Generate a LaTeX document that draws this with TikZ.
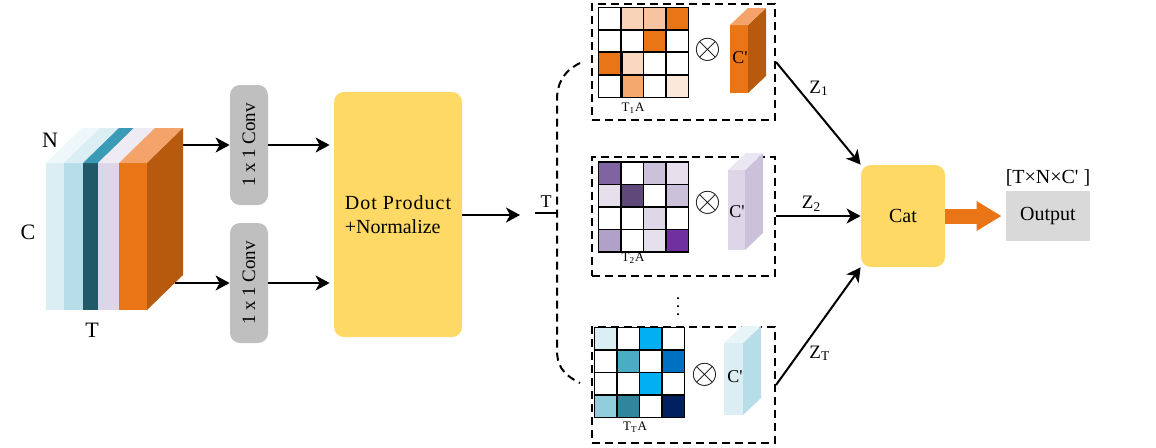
\documentclass[tikz,border=0pt]{standalone}
\usepackage{fontspec}
\setmainfont{Liberation Serif}
\usetikzlibrary{positioning,matrix,arrows.meta}

\definecolor{yel}{HTML}{FED966}
\definecolor{gConv}{HTML}{BFBFBF}
\definecolor{gOut}{HTML}{D9D9D9}
\definecolor{orA}{HTML}{E97516}
\definecolor{orSide}{HTML}{B85A0E}
\definecolor{orTop}{HTML}{F4A46A}
\definecolor{oB}{HTML}{F9D3B8}
\definecolor{oC}{HTML}{F7C3A0}
\definecolor{oD}{HTML}{FAD8C0}
\definecolor{oE}{HTML}{F4A86B}
\definecolor{oF}{HTML}{FCE8DA}
\definecolor{pA}{HTML}{8064A2}
\definecolor{pB}{HTML}{CCC1DA}
\definecolor{pC}{HTML}{E6E0EC}
\definecolor{pD}{HTML}{5F497A}
\definecolor{pE}{HTML}{DDD7E8}
\definecolor{pF}{HTML}{B1A0C7}
\definecolor{pG}{HTML}{7030A0}
\definecolor{bA}{HTML}{DAEEF3}
\definecolor{bB}{HTML}{00B0F0}
\definecolor{bC}{HTML}{4BACC6}
\definecolor{bD}{HTML}{0070C0}
\definecolor{bE}{HTML}{92CDDC}
\definecolor{bF}{HTML}{31859C}
\definecolor{bG}{HTML}{002060}
\definecolor{cA}{HTML}{DAEEF3}
\definecolor{cAt}{HTML}{EEF7FA}
\definecolor{cB}{HTML}{B7DEE8}
\definecolor{cBt}{HTML}{DAEEF3}
\definecolor{cC}{HTML}{215968}
\definecolor{cCt}{HTML}{3B9AB5}
\definecolor{cD}{HTML}{DCD6E8}
\definecolor{cDt}{HTML}{EEEBF4}
\definecolor{lvF}{HTML}{DCD6E8}
\definecolor{lvS}{HTML}{CCC1DA}
\definecolor{lvT}{HTML}{EAE6F2}
\definecolor{lbF}{HTML}{DAEEF3}
\definecolor{lbS}{HTML}{B7DEE8}
\definecolor{lbT}{HTML}{E8F5F8}

\begin{document}
\begin{tikzpicture}[x=0.5pt,y=-0.5pt,>={Stealth[length=7pt,width=7.5pt,inset=2pt]},
    conv/.style={rectangle,rounded corners=5pt,fill=gConv,minimum width=19pt,
                 minimum height=60pt,inner sep=0pt,font=\fontsize{9.5}{11}\selectfont},
    ybox/.style={rectangle,rounded corners=5pt,fill=yel,inner sep=0pt},
    dline/.style={dash pattern=on 4pt off 2.5pt,line width=1pt},
    dbox/.style={rectangle,draw,dline,minimum width=91.5pt,inner sep=0pt},
    cell/.style={rectangle,draw,line width=0.6pt,minimum size=11.25pt,inner sep=0pt},
    attmat/.style={matrix of nodes,nodes in empty cells,nodes={cell},
                   column sep=-0.6pt,row sep=-0.6pt,inner sep=0pt},
    arr/.style={->,line width=1pt}
                   ]
    \useasboundingbox (0,0) rectangle (1156,447);

    % input block
    \foreach \xa/\xb/\cf/\ct in {46/64/cA/cAt,64/83/cB/cBt,83/98/cC/cCt,98/119/cD/cDt,119/147/orA/orTop}{
        \fill[\cf] (\xa,163) rectangle (\xb,310);
        \fill[\ct] (\xa,163) -- (\xb,163) -- (\xb+36,128) -- (\xa+36,128) -- cycle;
    }
    \fill[orSide] (147,163) -- (183,128) -- (183,275) -- (147,310) -- cycle;
    \node[font=\fontsize{11}{13}\selectfont] (lN) at (50,140) {N};
    \node[font=\fontsize{11}{13}\selectfont] (lC) at (28,232) {C};
    \node[font=\fontsize{11}{13}\selectfont] (lT) at (92,330) {T};
    \coordinate (inA) at (183,145);
    \coordinate (inB) at (175,283);

    \node[conv] (convA) at (249,145) {\rotatebox{90}{1 x 1 Conv}};
    \node[conv] (convB) at (249,283) {\rotatebox{90}{1 x 1 Conv}};
    \node[ybox,minimum width=64pt,minimum height=122.5pt,align=left] (dot) at (398,214.5)
        {{\addfontfeatures{LetterSpace=5}Dot Product}\\+Normalize};

    \draw[arr] (inA) -- (convA.west);
    \draw[arr] (inB) -- (convB.west);
    \draw[arr,shorten >=2pt] (convA.east) -- (dot.west|-convA.east);
    \draw[arr,shorten >=2pt] (convB.east) -- (dot.west|-convB.east);

    \coordinate (dOut) at (520,215);
    \coordinate (tL) at (535,213);
    \coordinate (tR) at (557,213);
    \draw[arr] (dot.east|-dOut) -- (dOut);
    \draw[line width=1pt] (tL) -- node[above=-1pt,font=\fontsize{9}{11}\selectfont] (lTb) {T} (tR);
    \draw[dline] (580,63) .. controls (562,72) and (557,85) .. (557,100) -- (557,350)
        .. controls (557,365) and (562,374) .. (580,383);

    % the T branches
    \node[dbox,minimum height=58pt] (b1) at (683.5,62) {};
    \node[dbox,minimum height=59.5pt] (b2) at (683.5,216) {};
    \node[dbox,minimum height=58pt] (b3) at (683.5,385) {};

    \matrix (m1) [attmat] at (643.5,52.5) {
          & |[fill=oB]| & |[fill=oC]| & |[fill=orA]| \\
          &             & |[fill=orA]| & \\
        |[fill=orA]| & |[fill=oD]| & & \\
          & |[fill=oE]| & & |[fill=oF]| \\
    };
    \draw[line width=1.2pt] (m1-3-1.north west) -- (m1-3-4.north east);
    \draw[line width=1.2pt] (m1-3-1.north east) -- (m1-4-1.south east);
    \matrix (m2) [attmat] at (643.5,207) {
        |[fill=pA]| & & |[fill=pB]| & |[fill=pC]| \\
        |[fill=pC]| & |[fill=pD]| & & |[fill=pB]| \\
          & & |[fill=pE]| & \\
        |[fill=pF]| & & |[fill=pC]| & |[fill=pG]| \\
    };
    \matrix (m3) [attmat] at (639.5,372.5) {
        |[fill=bA]| & & |[fill=bB]| & \\
          & |[fill=bC]| & & |[fill=bD]| \\
          & & |[fill=bB]| & \\
        |[fill=bE]| & |[fill=bF]| & & |[fill=bG]| \\
    };
    \node[font=\fontsize{6.5}{8}\selectfont] (l1) at (633,108) {T\textsubscript{1}A};
    \node[font=\fontsize{6.5}{8}\selectfont] (l2) at (633,258) {T\textsubscript{2}A};
    \node[font=\fontsize{6.5}{8}\selectfont] (l3) at (635,427) {T\textsubscript{T}A};

    \node[font=\fontsize{16}{16}\selectfont] (x1) at (708,50) {$\otimes$};
    \node[font=\fontsize{16}{16}\selectfont] (x2) at (708,203) {$\otimes$};
    \node[font=\fontsize{16}{16}\selectfont] (x3) at (705,375) {$\otimes$};

    \foreach \xa/\xb/\ya/\yb/\cf/\cs/\ct in {730/748/25/93/orA/orSide/orTop,
            728/745/170/250/lvF/lvS/lvT,724/743/343/415/lbF/lbS/lbT}{
        \fill[\cf] (\xa,\ya) rectangle (\xb,\yb);
        \fill[\cs] (\xb,\ya) -- (\xb+18,\ya-17) -- (\xb+18,\yb-17) -- (\xb,\yb) -- cycle;
        \fill[\ct] (\xa,\ya) -- (\xb,\ya) -- (\xb+18,\ya-17) -- (\xa+18,\ya-17) -- cycle;
    }
    \node[font=\fontsize{9}{11}\selectfont] (c1) at (740,58) {C\textquotesingle};
    \node[font=\fontsize{9}{11}\selectfont] (c2) at (737,212) {C\textquotesingle};
    \node[font=\fontsize{9}{11}\selectfont] (c3) at (735,377) {C\textquotesingle};

    \node (vd) at (678,301) {\small$\vdots$};

    % concatenation
    \node[ybox,minimum width=42pt,minimum height=51pt] (cat) at (903,216) {Cat};
    \node[rectangle,fill=gOut,minimum width=42pt,minimum height=25pt,inner sep=0pt] (out) at (1048,216) {Output};
    \node[above=1pt of out,inner sep=1pt] (shape) {[T×N×C\textquotesingle\ ]};

    \path[arr] (b1.east) edge node[pos=0.36,above right,inner sep=1pt,font=\fontsize{9.5}{11}\selectfont] {Z\textsubscript{1}} (cat.north west)
    (b2.east) edge node[pos=0.42,above,inner sep=2pt,font=\fontsize{9.5}{11}\selectfont] {Z\textsubscript{2}} (cat.west)
    (b3.east) edge node[pos=0.36,below right,inner sep=1pt,font=\fontsize{9.5}{11}\selectfont] {Z\textsubscript{T}} (cat.south west);
    \draw[line width=7.5pt,draw=orA,-{Triangle[length=12.5pt,width=14pt]}] (cat.east) -- ([xshift=-2pt]out.west);

\end{tikzpicture}
\end{document}
